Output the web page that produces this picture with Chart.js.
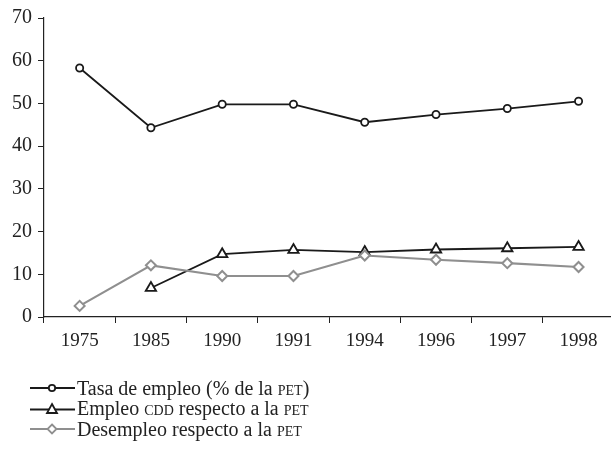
<!DOCTYPE html>
<html><head><meta charset="utf-8">
<script src="https://cdn.jsdelivr.net/npm/chart.js@4"></script>
<style>
html,body{margin:0;padding:0;background:#fff;overflow:hidden;}
#wrap{position:relative;width:611px;height:449px;overflow:hidden;}
#c{position:absolute;left:0;top:0;}
#legend{position:absolute;left:30px;top:378px;font-family:"Liberation Serif","DejaVu Serif",serif;font-size:20px;color:#222;}
.row{height:20.5px;display:flex;align-items:center;white-space:nowrap;}
.row svg{margin-right:2px;flex:none;}
.sc{font-variant:small-caps;}
</style></head>
<body><div id="wrap"><canvas id="c" width="622" height="449"></canvas>
<div id="legend">
<div class="row"><svg width="45" height="14"><line x1="0" y1="7" x2="45" y2="7" stroke="#1a1a1a" stroke-width="2"/><circle cx="22" cy="7" r="3.2" fill="#fff" stroke="#1a1a1a" stroke-width="1.8"/></svg><span>Tasa de empleo (% de la <span class="sc">pet</span>)</span></div>
<div class="row"><svg width="45" height="14"><line x1="0" y1="7.5" x2="45" y2="7.5" stroke="#1a1a1a" stroke-width="2"/><polygon points="22,2 27,11 17,11" fill="#fff" stroke="#1a1a1a" stroke-width="1.8"/></svg><span>Empleo <span class="sc">cdd</span> respecto a la <span class="sc">pet</span></span></div>
<div class="row"><svg width="45" height="14"><line x1="0" y1="7" x2="45" y2="7" stroke="#8f8f8f" stroke-width="2"/><polygon points="22,2.5 26.5,7 22,11.5 17.5,7" fill="#fff" stroke="#8f8f8f" stroke-width="1.8"/></svg><span>Desempleo respecto a la <span class="sc">pet</span></span></div>
</div></div>
<script>
const categories = ["1975","1985","1990","1991","1994","1996","1997","1998"];
const tasaEmpleo = [58.3, 44.3, 49.8, 49.8, 45.6, 47.4, 48.8, 50.5];
const empleoCDD = [null, 6.8, 14.7, 15.7, 15.2, 15.8, 16.1, 16.4];
const desempleo = [2.6, 12.1, 9.6, 9.6, 14.4, 13.4, 12.6, 11.7];
const yTicks = [0,10,20,30,40,50,60,70];

const font = {family:"'Liberation Serif','DejaVu Serif',serif", size:19};
new Chart(document.getElementById('c'), {
  type:'line',
  data:{labels:categories, datasets:[
    {label:'Tasa de empleo (% de la PET)', data:tasaEmpleo, borderColor:'#1a1a1a', borderWidth:1.8, pointStyle:'circle', pointRadius:3.6, pointBorderWidth:1.8, pointBackgroundColor:'#fff', pointBorderColor:'#1a1a1a', order:2, tension:0},
    {label:'Empleo CDD respecto a la PET', data:empleoCDD, borderColor:'#1a1a1a', borderWidth:1.8, pointStyle:'triangle', pointRadius:6, pointBorderWidth:1.8, pointBackgroundColor:'#fff', pointBorderColor:'#1a1a1a', order:1, tension:0},
    {label:'Desempleo respecto a la PET', data:desempleo, borderColor:'#8f8f8f', borderWidth:2.2, pointStyle:'rectRot', pointRadius:5, pointBorderWidth:2, pointBackgroundColor:'#fff', pointBorderColor:'#8f8f8f', order:0, tension:0}
  ]},
  options:{
    responsive:false, animation:false,
    layout:{padding:{left:0,right:0,top:18,bottom:0}},
    plugins:{legend:{display:false}, tooltip:{enabled:false}},
    scales:{
      x:{offset:true, grid:{display:true, drawOnChartArea:false, tickLength:6, color:'#222', offset:true}, border:{color:'#222',width:1.2},
         ticks:{font, color:'#222', padding:7, maxRotation:0},
         afterFit:(s)=>{s.height=132;}},
      y:{min:0, max:70, afterBuildTicks:(s)=>{s.ticks=yTicks.map(v=>({value:v}));},
         grid:{drawOnChartArea:false, tickLength:6, color:'#222'}, border:{color:'#222',width:1.2},
         ticks:{font:{family:font.family,size:20}, color:'#222', padding:6},
         afterFit:(s)=>{s.width=44;}}
    }
  }
});
</script></body></html>
